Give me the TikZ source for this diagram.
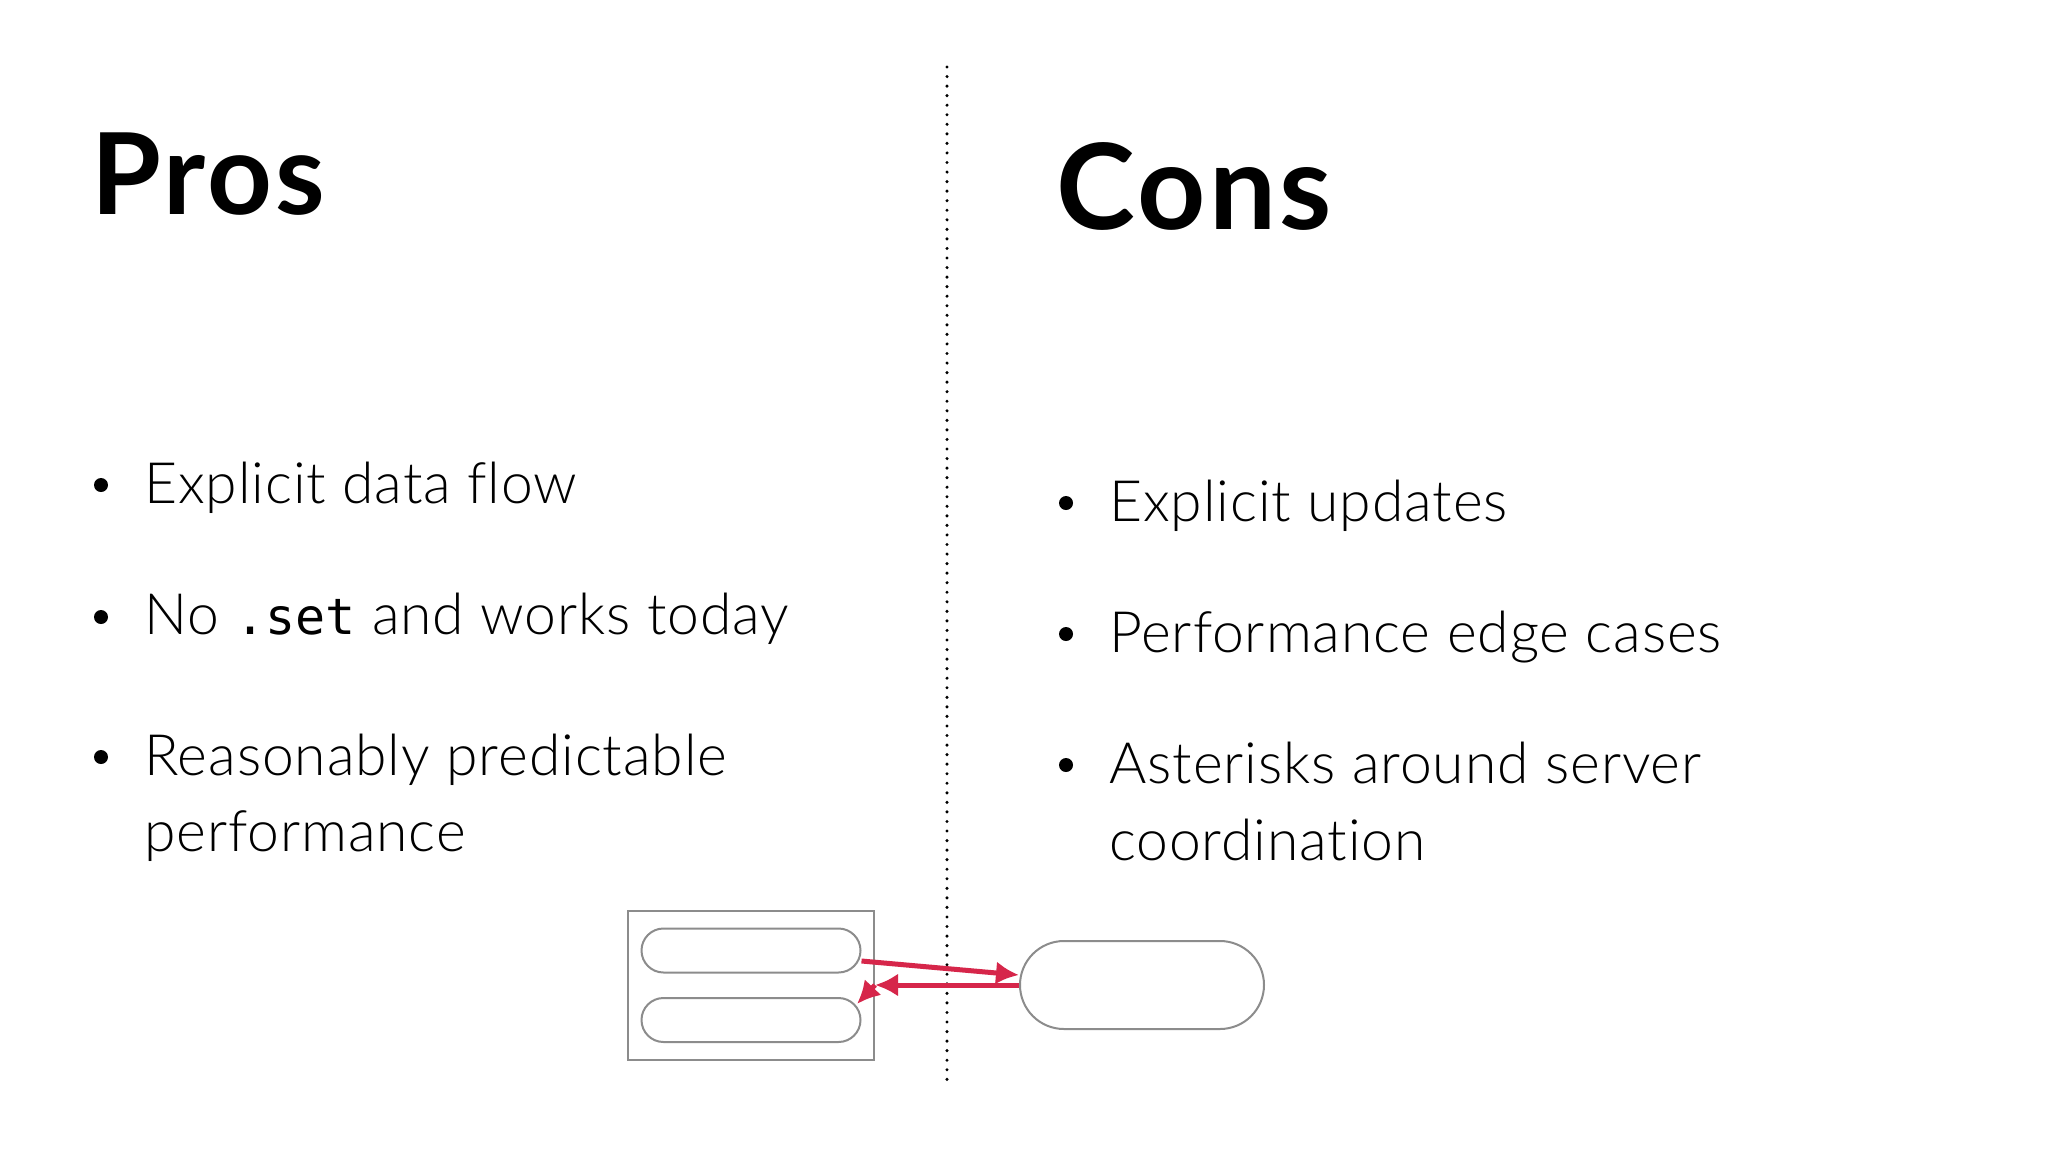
\documentclass[tikz,border=0pt]{standalone}
\usepackage{fontspec}
\setmainfont{Lato Light}[Ligatures=NoCommon,LetterSpace=1.6]
\setmonofont{DejaVu Sans Mono}
\newfontfamily\headfont{Lato}[BoldFont=Lato Bold,LetterSpace=3]
\usetikzlibrary{arrows.meta,shapes.misc}
\definecolor{arrowRed}{HTML}{D6264A}
\definecolor{boxGray}{HTML}{8C8C8C}
\tikzset{
    heading/.style={anchor=base west,inner sep=0pt,font=\fontsize{113}{113}\selectfont\headfont\bfseries},
    item/.style={anchor=base west,inner sep=0pt,font=\fontsize{57}{57}\selectfont},
    dotmark/.style={anchor=center,inner sep=0pt,circle,fill=black,minimum size=14pt},
    pill/.style={draw=boxGray,line width=2pt,rounded rectangle,inner sep=0pt},
    flow/.style={draw=arrowRed,line width=5pt,-{Latex[length=23pt,width=23pt]}},
    }
\begin{document}
\begin{tikzpicture}[x=1pt,y=-1pt]
	\useasboundingbox (0,0) rectangle (2048,1152);
	\fill[white] (0,0) rectangle (2048,1152);
	\draw[line width=3.4pt,line cap=round,dash pattern=on 0pt off 9.55pt] (947,67) -- (947,1081);
	% left column
	\node[heading] (pros) at (91,214) {Pros};
	\node[dotmark] (prosA) at (101,485) {};
	\node[item] (prosAtext) at (144,503) {Explicit data flow};
	\node[dotmark] (prosB) at (101,617) {};
	\node[item] (prosBtext) at (144,634) {No {\ttfamily\fontsize{50}{50}\selectfont .set} and works today};
	\node[dotmark] (prosC) at (101,757) {};
	\node[item] (prosCtext) at (144,775) {Reasonably predictable};
	\node[item] (prosCmore) at (144,851) {performance};
	% right column
	\node[heading,font=\fontsize{119}{119}\selectfont\headfont\bfseries] (cons) at (1056,229) {Cons};
	\node[dotmark] (consA) at (1066,503) {};
	\node[item] (consAtext) at (1109,521) {Explicit updates};
	\node[dotmark] (consB) at (1066,634) {};
	\node[item] (consBtext) at (1109,652) {Performance edge cases};
	\node[dotmark] (consC) at (1066,765) {};
	\node[item] (consCtext) at (1109,783) {Asterisks around server};
	\node[item] (consCmore) at (1109,860) {coordination};
	% client box and server
	\node[draw=boxGray,line width=2pt,minimum width=246pt,minimum height=149pt,inner sep=0pt] (client) at (751,985) {};
	\node[pill,minimum width=219pt,minimum height=44pt] (clientTop) at (751,950.5) {};
	\node[pill,minimum width=219pt,minimum height=44pt] (clientLow) at (751,1020) {};
	\node[pill,minimum width=244pt,minimum height=88pt] (server) at (1142,985) {};
	\coordinate (bend) at (875,985);
	\coordinate (lowTip) at (857,1004);
	\draw[flow] (clientTop.east |- 0,961) -- (server.west |- 0,975);
	\draw[flow] (server.west) -- (bend);
	\draw[flow] (bend) -- (lowTip);
\end{tikzpicture}
\end{document}
